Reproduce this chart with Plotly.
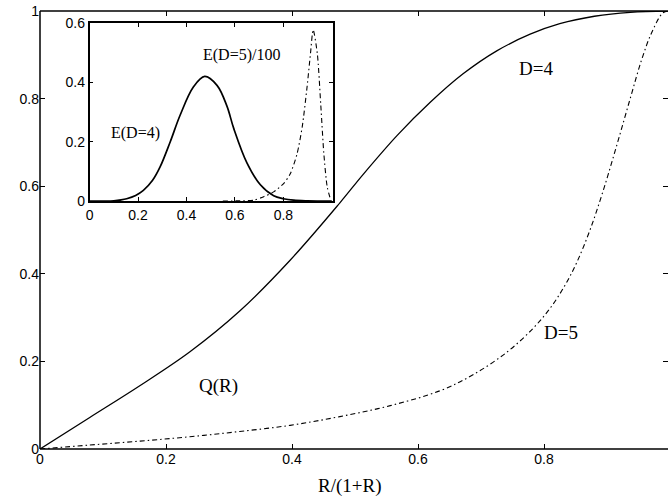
import plotly.graph_objects as go

# Main panel: Q(R) curves
q4_x = [0, 0.079, 0.159, 0.238, 0.317, 0.397, 0.476, 0.513, 0.567, 0.619, 0.671, 0.725, 0.778, 0.825, 0.88, 0.937, 1.0]
q4_y = [0, 0.072, 0.145, 0.222, 0.315, 0.431, 0.562, 0.627, 0.716, 0.791, 0.856, 0.909, 0.947, 0.971, 0.988, 0.997, 1.0]

q5_x = [0, 0.079, 0.159, 0.238, 0.317, 0.397, 0.476, 0.556, 0.635, 0.688, 0.741, 0.783, 0.810, 0.833, 0.852, 0.873,
        0.894, 0.916, 0.937, 0.955, 0.971, 0.989, 1.0]
q5_y = [0, 0.009, 0.018, 0.028, 0.040, 0.054, 0.074, 0.099, 0.133, 0.170, 0.221, 0.276, 0.322, 0.373, 0.426, 0.50,
        0.59, 0.696, 0.801, 0.889, 0.951, 0.996, 1.0]

# Inset: E(D=4) and E(D=5)/100
e4_x = [0, 0.06, 0.1, 0.13, 0.153, 0.19, 0.222, 0.26, 0.291, 0.333, 0.374, 0.429, 0.475, 0.526, 0.567, 0.595, 0.65,
        0.705, 0.76, 0.8, 0.843, 0.9, 1.0]
e4_y = [0, 0.0, 0.001, 0.004, 0.008, 0.019, 0.036, 0.07, 0.115, 0.2, 0.29, 0.385, 0.42, 0.39, 0.32, 0.245, 0.128,
        0.055, 0.018, 0.008, 0.003, 0.001, 0]

e5_x = [0.55, 0.62, 0.678, 0.719, 0.76, 0.802, 0.829, 0.857, 0.878, 0.898, 0.912, 0.923, 0.940, 0.954, 0.967, 0.981, 0.995]
e5_y = [0, 0.001, 0.003, 0.015, 0.031, 0.06, 0.093, 0.161, 0.251, 0.386, 0.498, 0.577, 0.498, 0.33, 0.161, 0.048, 0.005]

main_ticks = [0, 0.2, 0.4, 0.6, 0.8, 1]
inset_xticks = [0, 0.2, 0.4, 0.6, 0.8]
inset_yticks = [0, 0.2, 0.4, 0.6]

DASHDOT = "5px,3px,1.5px,3px"
SERIF = "Liberation Serif"
SANS = "Liberation Sans"

fig = go.Figure()
fig.add_trace(go.Scatter(x=q4_x, y=q4_y, mode="lines", line=dict(color="black", width=1.3, shape="spline", smoothing=1.0),
                         xaxis="x", yaxis="y", showlegend=False, hoverinfo="skip"))
fig.add_trace(go.Scatter(x=q5_x, y=q5_y, mode="lines", line=dict(color="black", width=1.1, dash=DASHDOT, shape="spline", smoothing=1.0),
                         xaxis="x", yaxis="y", showlegend=False, hoverinfo="skip"))
fig.add_trace(go.Scatter(x=e4_x, y=e4_y, mode="lines", line=dict(color="black", width=1.7, shape="spline", smoothing=1.0),
                         xaxis="x2", yaxis="y2", showlegend=False, hoverinfo="skip"))
fig.add_trace(go.Scatter(x=e5_x, y=e5_y, mode="lines", line=dict(color="black", width=1.1, dash=DASHDOT, shape="spline", smoothing=0.7),
                         xaxis="x2", yaxis="y2", showlegend=False, hoverinfo="skip"))

tickfont = dict(family=SANS, size=14, color="black")

fig.update_layout(
    width=668, height=500,
    margin=dict(l=40, r=0, t=11, b=51),
    paper_bgcolor="white", plot_bgcolor="white",
    xaxis=dict(range=[0, 0.9968], tickvals=main_ticks[:-1], ticks="inside", ticklen=5, tickcolor="black",
               showline=False, mirror="ticks", showgrid=False, zeroline=False, tickfont=tickfont),
    yaxis=dict(range=[0, 1], tickvals=main_ticks, ticks="inside", ticklen=5, tickcolor="black",
               showline=False, mirror="ticks", showgrid=False, zeroline=False, tickfont=tickfont),
    xaxis2=dict(domain=[0.079, 0.4666], anchor="y2", range=[0, 1.005], tickvals=inset_xticks, ticks="inside",
                ticklen=4, tickcolor="black", showline=True, linecolor="black", linewidth=1.5, mirror="ticks",
                showgrid=False, zeroline=False, tickfont=tickfont),
    yaxis2=dict(domain=[0.566, 0.9726], anchor="x2", range=[0, 0.6], tickvals=inset_yticks, ticks="inside",
                ticklen=4, tickcolor="black", showline=True, linecolor="black", linewidth=1.5, mirror="ticks",
                showgrid=False, zeroline=False, tickfont=tickfont),
    shapes=[
        dict(type="line", xref="paper", yref="paper", x0=0, x1=0, y0=0, y1=1, line=dict(color="black", width=1.5)),
        dict(type="line", xref="paper", yref="paper", x0=0, x1=1, y0=0, y1=0, line=dict(color="black", width=1.5)),
        dict(type="line", xref="paper", yref="paper", x0=0, x1=1, y0=1, y1=1, line=dict(color="black", width=1.5)),
    ],
    annotations=[
        dict(text="D=4", x=0.787, y=0.868, xref="x", yref="y", showarrow=False, font=dict(family=SERIF, size=19, color="black")),
        dict(text="D=5", x=0.827, y=0.265, xref="x", yref="y", showarrow=False, font=dict(family=SERIF, size=19, color="black")),
        dict(text="Q(R)", x=0.283, y=0.144, xref="x", yref="y", showarrow=False, font=dict(family=SERIF, size=19, color="black")),
        dict(text="E(D=4)", x=0.19, y=0.231, xref="x2", yref="y2", showarrow=False, font=dict(family=SERIF, size=16, color="black")),
        dict(text="E(D=5)/100", x=0.629, y=0.492, xref="x2", yref="y2", showarrow=False, font=dict(family=SERIF, size=16, color="black")),
        dict(text="R/(1+R)", x=0.4936, y=-0.0845, xref="paper", yref="paper", showarrow=False, yanchor="middle",
             font=dict(family=SERIF, size=19, color="black")),
    ],
)

fig.write_html("out.html", config={"displayModeBar": False},
               post_script="document.body.style.margin='0px';")
